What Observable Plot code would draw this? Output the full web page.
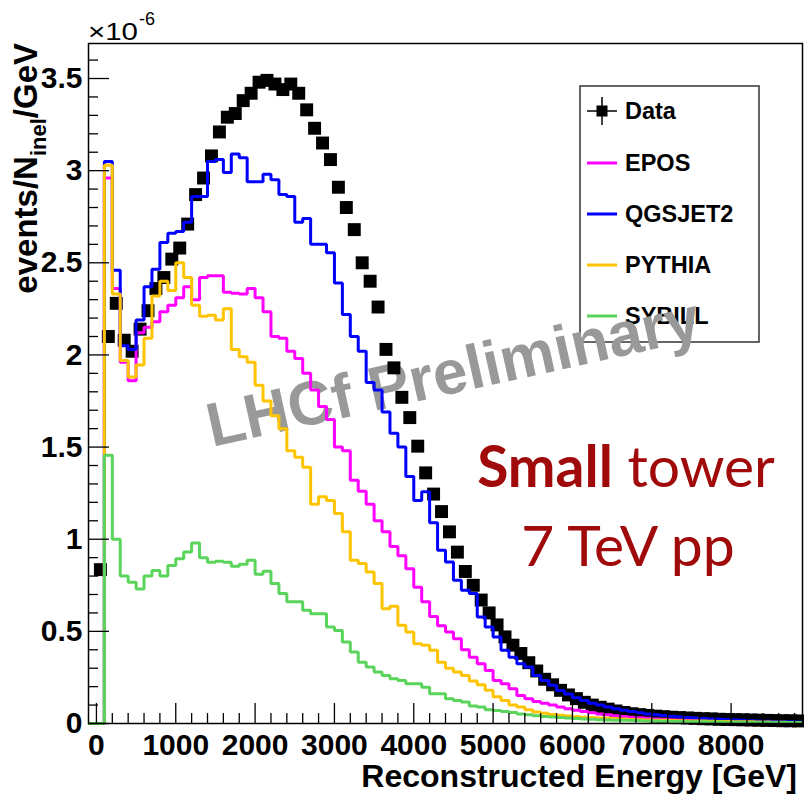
<!DOCTYPE html>
<html>
<head>
<meta charset="utf-8">
<script src="https://cdn.jsdelivr.net/npm/d3@7"></script>
<script src="https://cdn.jsdelivr.net/npm/@observablehq/plot@0.6"></script>
<style>
  body { margin: 0; background: #fff; }
  svg { display: block; }
</style>
</head>
<body>
<div id="chart"></div>
<script>
// Energy spectrum of the LHCf small tower, 7 TeV pp.
// Bins are 100 GeV wide; value i belongs to [100*i, 100*i + 100] GeV. Units: 1e-6 events/N_inel/GeV.
const binWidth = 100;
const xMin = -100, xMax = 8900;

const dataValues = [
  0.835, 2.10, 2.28, 2.08, 2.02, 2.14, 2.24, 2.36, 2.42, 2.52,
  2.58, 2.71, 2.87, 2.96, 3.08, 3.21, 3.29, 3.31, 3.38, 3.42,
  3.48, 3.49, 3.47, 3.44, 3.47, 3.42, 3.33, 3.23, 3.15, 3.06,
  2.91, 2.80, 2.68, 2.50, 2.40, 2.26, 2.03, 1.93, 1.77, 1.66,
  1.505, 1.36, 1.245, 1.15, 1.04, 0.93, 0.825, 0.75, 0.67, 0.60,
  0.535, 0.47, 0.425, 0.38, 0.33, 0.285, 0.24, 0.21, 0.18, 0.155,
  0.135, 0.115, 0.10, 0.088, 0.078, 0.068, 0.060, 0.053, 0.048, 0.044,
  0.040, 0.037, 0.034, 0.032, 0.030, 0.028, 0.026, 0.025, 0.023, 0.022,
  0.021, 0.020, 0.019, 0.018, 0.017, 0.016, 0.015, 0.015, 0.014
];

const eposValues = [
  0, 2.96, 2.36, 1.96, 1.86, 2.12, 2.15, 2.18, 2.235, 2.27,
  2.31, 2.37, 2.30, 2.42, 2.43, 2.43, 2.34, 2.335, 2.33, 2.36,
  2.31, 2.235, 2.10, 2.09, 2.02, 1.98, 1.90, 1.81, 1.72, 1.65,
  1.50, 1.48, 1.32, 1.26, 1.19, 1.10, 1.04, 0.96, 0.91, 0.84,
  0.74, 0.66, 0.58, 0.53, 0.496, 0.46, 0.40, 0.36, 0.324, 0.288,
  0.234, 0.216, 0.188, 0.152, 0.134, 0.12, 0.11, 0.10, 0.09, 0.08,
  0.072, 0.065, 0.058, 0.052, 0.047, 0.042, 0.038, 0.034, 0.031, 0.028,
  0.025, 0.023, 0.021, 0.019, 0.017, 0.016, 0.014, 0.013, 0.012, 0.011,
  0.010, 0.009, 0.008, 0.008, 0.007, 0.006, 0.006, 0.005, 0.005
];

const qgsjetValues = [
  0, 3.05, 2.46, 2.05, 2.03, 2.19, 2.37, 2.465, 2.61, 2.66,
  2.67, 2.72, 2.86, 2.86, 3.05, 3.06, 2.99, 3.09, 3.07, 2.94,
  2.94, 2.98, 2.95, 2.87, 2.86, 2.72, 2.74, 2.60, 2.60, 2.555,
  2.39, 2.22, 2.10, 2.02, 1.85, 1.81, 1.69, 1.575, 1.50, 1.34,
  1.21, 1.257, 1.09, 0.94, 0.877, 0.777, 0.723, 0.705, 0.578, 0.523,
  0.469, 0.397, 0.36, 0.324, 0.306, 0.26, 0.234, 0.207, 0.179, 0.16,
  0.14, 0.125, 0.11, 0.10, 0.09, 0.08, 0.072, 0.065, 0.058, 0.052,
  0.047, 0.043, 0.040, 0.036, 0.033, 0.030, 0.027, 0.025, 0.023, 0.021,
  0.019, 0.017, 0.015, 0.014, 0.012, 0.011, 0.010, 0.009, 0.008
];

const pythiaValues = [
  0, 3.03, 2.33, 1.97, 1.88, 1.945, 2.09, 2.32, 2.40, 2.35,
  2.50, 2.42, 2.27, 2.21, 2.215, 2.19, 2.25, 2.03, 1.99, 1.96,
  1.835, 1.75, 1.67, 1.60, 1.48, 1.445, 1.39, 1.19, 1.23, 1.21,
  1.14, 1.04, 0.886, 0.868, 0.822, 0.76, 0.623, 0.636, 0.533, 0.496,
  0.433, 0.424, 0.397, 0.333, 0.30, 0.28, 0.26, 0.23, 0.21, 0.18,
  0.145, 0.125, 0.10, 0.09, 0.075, 0.062, 0.055, 0.049, 0.045, 0.041,
  0.037, 0.034, 0.032, 0.030, 0.028, 0.026, 0.024, 0.022, 0.020, 0.019,
  0.018, 0.017, 0.016, 0.015, 0.014, 0.013, 0.013, 0.012, 0.011, 0.011,
  0.010, 0.009, 0.009, 0.008, 0.008, 0.007, 0.007, 0.006, 0.006
];

const sybillValues = [
  0, 1.455, 1.00, 0.80, 0.766, 0.73, 0.80, 0.83, 0.80, 0.857,
  0.894, 0.93, 0.98, 0.90, 0.875, 0.88, 0.875, 0.853, 0.864, 0.886,
  0.81, 0.826, 0.76, 0.705, 0.66, 0.66, 0.614, 0.596, 0.596, 0.523,
  0.505, 0.442, 0.388, 0.333, 0.306, 0.279, 0.261, 0.243, 0.234, 0.216,
  0.216, 0.197, 0.161, 0.161, 0.134, 0.125, 0.116, 0.095, 0.089, 0.075,
  0.071, 0.065, 0.060, 0.052, 0.047, 0.042, 0.038, 0.035, 0.032, 0.030,
  0.027, 0.025, 0.023, 0.021, 0.019, 0.018, 0.017, 0.016, 0.015, 0.014,
  0.013, 0.012, 0.011, 0.011, 0.010, 0.009, 0.009, 0.008, 0.008, 0.007,
  0.007, 0.007, 0.006, 0.006, 0.006, 0.005, 0.005, 0.005, 0.005
];

const seriesNames = ["EPOS", "QGSJET2", "PYTHIA", "SYBILL"];
const seriesColors = ["#ff00ff", "#0000ff", "#ffc400", "#5bd45b"];
const seriesValues = [eposValues, qgsjetValues, pythiaValues, sybillValues];

const xTickLabels = [0, 1000, 2000, 3000, 4000, 5000, 6000, 7000, 8000];
const yTickLabels = [0, 0.5, 1, 1.5, 2, 2.5, 3, 3.5];

// Histogram outline: one point per left bin edge, plus the closing right edge.
function outline(values) {
  const pts = [{x: xMin, y: 0}];
  values.forEach((v, i) => pts.push({x: i * binWidth, y: v}));
  pts.push({x: values.length * binWidth, y: values[values.length - 1]});
  return pts;
}

const dataPoints = dataValues.map((v, i) => ({x: i * binWidth + binWidth / 2, y: v}));

const xMinorTicks = d3.range(200, 8900, 200).filter(d => d % 1000 !== 0);
const yMinorTicks = d3.range(1, 37).map(i => i / 10).filter(d => Math.abs(d * 2 - Math.round(d * 2)) > 1e-9);

const font = "'Liberation Sans', Arial, Helvetica, sans-serif";
const W = 804, H = 798;
const mL = 88, mR = 2, mT = 43, mB = 75;
const frameW = W - mL - mR, frameH = H - mT - mB;

const chart = Plot.plot({
  width: W,
  height: H,
  marginLeft: mL,
  marginRight: mR,
  marginTop: mT,
  marginBottom: mB,
  x: {domain: [xMin, xMax]},
  y: {domain: [0, 3.69]},
  style: {fontFamily: font, fontSize: "30px", fontWeight: "bold", background: "#fff", color: "#000"},
  marks: [
    Plot.dot(dataPoints, {x: "x", y: "y", symbol: "square", r: 7.3, fill: "black", stroke: "none"}),
    ...seriesValues.map((values, s) =>
      Plot.line(outline(values), {
        x: "x", y: "y", curve: "step-after",
        stroke: seriesColors[s], strokeWidth: 3,
        strokeLinejoin: "miter", strokeLinecap: "butt"
      })
    ),
    Plot.tickX(xTickLabels, {x: d => d, insetTop: frameH - 20, stroke: "black", strokeWidth: 1.3}),
    Plot.tickX(xMinorTicks, {x: d => d, insetTop: frameH - 10, stroke: "black", strokeWidth: 1.3}),
    Plot.tickY(yTickLabels, {y: d => d, insetRight: frameW - 21, stroke: "black", strokeWidth: 1.3}),
    Plot.tickY(yMinorTicks, {y: d => d, insetRight: frameW - 10, stroke: "black", strokeWidth: 1.3}),
    Plot.axisX({ticks: xTickLabels, tickSize: 0, tickPadding: 10, tickFormat: d => String(d),
                fontSize: 30, fontWeight: "bold", label: null}),
    Plot.axisY({ticks: yTickLabels, tickSize: 0, tickPadding: 6, tickFormat: d => String(d),
                fontSize: 30, fontWeight: "bold", label: null}),
    Plot.frame({stroke: "black", strokeWidth: 1.5})
  ]
});

document.getElementById("chart").appendChild(chart);

const svg = d3.select(chart);

// Legend and watermark sit underneath the plotted marks.
const under = svg.insert("g", "g").attr("text-anchor", "start");

const legend = under.append("g").attr("font-family", font).attr("font-weight", "bold").attr("font-size", 23.5);
legend.append("rect")
  .attr("x", 580).attr("y", 86).attr("width", 179).attr("height", 256)
  .attr("fill", "#fff").attr("stroke", "#333").attr("stroke-width", 1.5);

const rowY = [111, 163, 214, 265, 316];
const entries = [{name: "Data", color: "black"}].concat(seriesNames.map((n, i) => ({name: n, color: seriesColors[i]})));
entries.forEach((e, i) => {
  const y = rowY[i];
  if (i === 0) {
    legend.append("line").attr("x1", 587).attr("x2", 617).attr("y1", y).attr("y2", y).attr("stroke", "black").attr("stroke-width", 1.5);
    legend.append("line").attr("x1", 602).attr("x2", 602).attr("y1", y - 14).attr("y2", y + 14).attr("stroke", "black").attr("stroke-width", 1.5);
    legend.append("rect").attr("x", 596.5).attr("y", y - 5.5).attr("width", 11).attr("height", 11).attr("fill", "black");
  } else {
    legend.append("line").attr("x1", 587).attr("x2", 617).attr("y1", y).attr("y2", y).attr("stroke", e.color).attr("stroke-width", 3);
  }
  legend.append("text").attr("x", 625).attr("y", y).attr("dy", "0.36em").attr("text-anchor", "start").attr("fill", "black").text(e.name);
});

under.append("text")
  .attr("transform", "translate(212,447) rotate(-12.5)")
  .attr("text-anchor", "start")
  .attr("font-family", font).attr("font-weight", "bold").attr("font-size", 62)
  .attr("fill", "#999999")
  .text("LHCf Preliminary");

// Axis titles, exponent and annotation.
const over = svg.append("g");

over.append("text")
  .attr("x", 797).attr("y", 787)
  .attr("text-anchor", "end")
  .attr("font-family", font).attr("font-weight", "bold").attr("font-size", 32)
  .attr("fill", "black")
  .text("Reconstructed Energy [GeV]");

const yTitle = over.append("text")
  .attr("transform", "translate(37,43) rotate(-90)")
  .attr("text-anchor", "end")
  .attr("font-family", font).attr("font-weight", "bold").attr("font-size", 33)
  .attr("fill", "black");
yTitle.append("tspan").text("events/N");
yTitle.append("tspan").attr("font-size", 22).attr("dy", 9).text("inel");
yTitle.append("tspan").attr("dy", -9).text("/GeV");

const expo = over.append("text")
  .attr("x", 88).attr("y", 40)
  .attr("text-anchor", "start")
  .attr("font-family", font).attr("font-weight", "normal").attr("font-size", 24)
  .attr("fill", "black");
expo.append("tspan").attr("textLength", 50).attr("lengthAdjust", "spacingAndGlyphs").text("×10");
expo.append("tspan").attr("font-size", 18).attr("dy", -15).attr("dx", 1).text("-6");

const note = over.append("g")
  .attr("font-family", "Lato, 'Open Sans', sans-serif").attr("font-size", 57)
  .attr("fill", "#a00a0a").attr("text-anchor", "middle");
const line1 = note.append("text").attr("x", 626).attr("y", 487);
line1.append("tspan").attr("font-weight", "bold").text("Small");
line1.append("tspan").attr("font-weight", "normal").text(" tower");
note.append("text").attr("x", 628).attr("y", 566).attr("font-weight", "normal").text("7 TeV pp");
</script>
</body>
</html>
